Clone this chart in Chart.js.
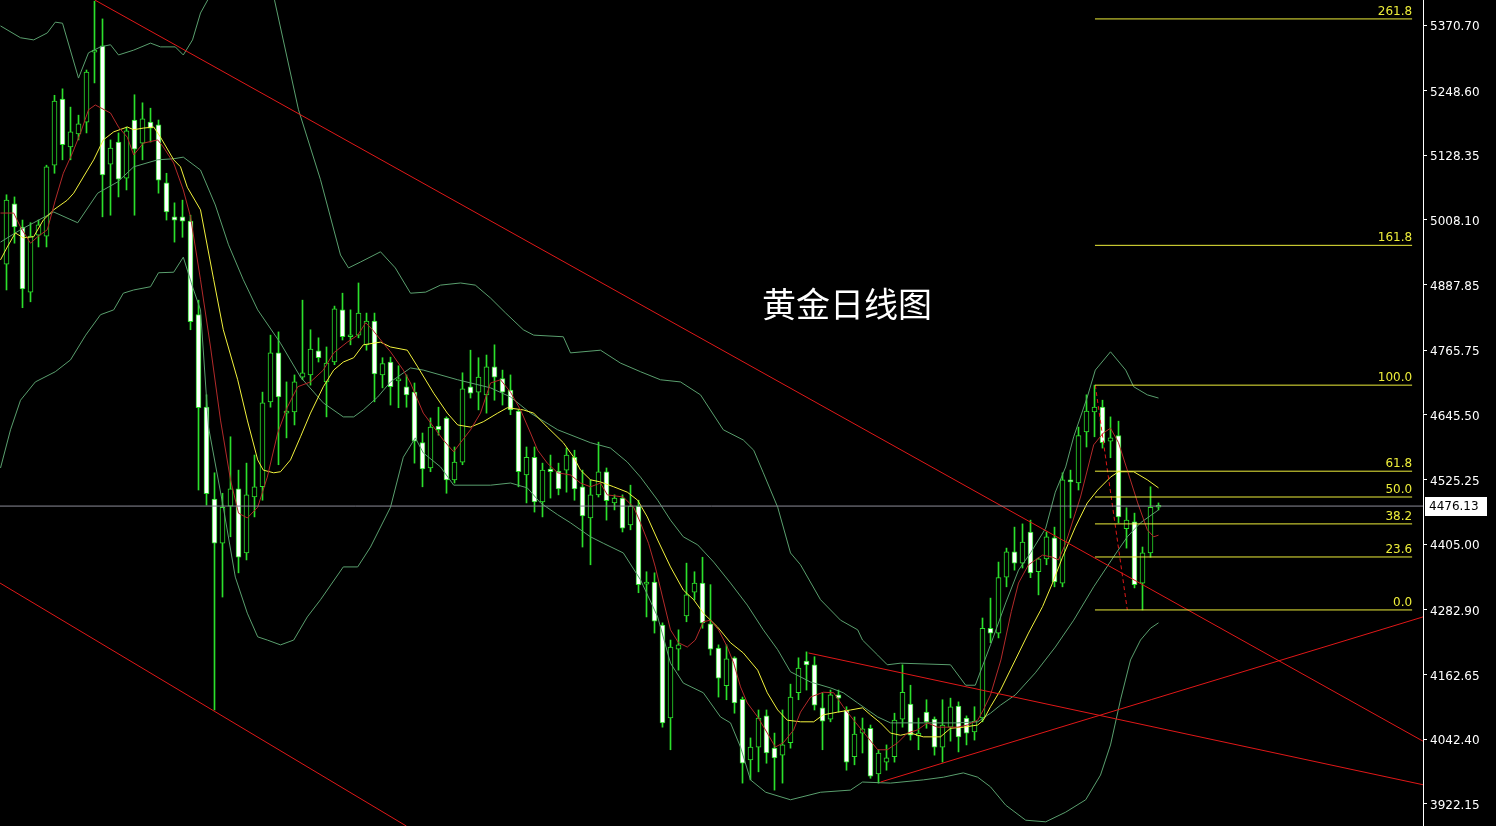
<!DOCTYPE html>
<html lang="zh">
<head>
  <meta charset="UTF-8">
  <meta name="viewport" content="width=device-width, initial-scale=1.0">
  <title>黄金日线图</title>
  <script src="https://cdn.jsdelivr.net/npm/chart.js"></script>
  <style>
    html, body {
      margin: 0;
      padding: 0;
      background-color: #000;
      overflow: hidden;
    }
    .chart-container {
      position: relative;
      width: 1496px;
      height: 826px;
    }
  </style>
</head>
<body>
  <div class="chart-container">
    <canvas id="goldChart"></canvas>
  </div>
  <script>
    // daily candles (oldest first)
    const opens = [4926,5038,4995,4874,4980,4978,5110,5233,5144,5168,5190,5320,5332,5112,5153,5086,5194,5151,5190,5185,
      5077,5014,5014,5006,4832,4660,4489,4407,4476,4508,4389,4493,4512,4670,4761,4649,4651,4716,4720,4765,
      4707,4744,4841,4791,4794,4776,4820,4720,4744,4709,4698,4688,4594,4547,4625,4640,4525,4558,4698,4688,
      4683,4735,4713,4692,4653,4534,4567,4484,4545,4541,4543,4567,4512,4454,4497,4540,4482,4491,4441,4476,
      4331,4335,4255,4082,4210,4272,4316,4333,4257,4212,4142,4194,4117,4004,4028,4086,4026,4013,4036,4129,
      4188,4181,4101,4080,4125,4097,4010,4054,4063,3978,4000,4010,4080,4108,4049,4093,4080,4028,4065,4104,
      4082,4056,4082,4249,4240,4344,4391,4370,4428,4354,4378,4417,4333,4525,4519,4614,4651,4660,4597,4607,
      4434,4447,4333,4389,4474];
    const highs = [5055,5051,5008,5003,5008,5110,5240,5252,5218,5203,5287,5415,5382,5157,5170,5181,5241,5226,5216,5194,
      5095,5040,5045,5017,4859,4683,4538,4500,4605,4543,4556,4571,4688,4794,4800,4707,4720,4859,4804,4789,
      4772,4848,4872,4841,4891,4835,4835,4752,4753,4737,4720,4705,4612,4640,4660,4642,4586,4724,4766,4752,
      4757,4776,4729,4720,4655,4586,4586,4556,4571,4556,4584,4580,4543,4525,4595,4547,4497,4497,4515,4487,
      4354,4352,4259,4227,4246,4370,4354,4381,4330,4218,4218,4196,4121,4045,4097,4097,4054,4097,4145,4194,
      4205,4196,4129,4134,4134,4103,4084,4082,4069,4023,4032,4091,4181,4143,4082,4116,4084,4116,4119,4112,
      4086,4103,4268,4305,4372,4398,4437,4443,4450,4380,4428,4437,4538,4543,4623,4683,4701,4673,4642,4634,
      4473,4463,4400,4512,4482];
    const lows = [4878,4965,4845,4856,4958,4958,5095,5120,5120,5157,5170,5263,5014,5017,5051,5064,5017,5120,5153,5058,
      5008,4967,4976,4804,4506,4478,4097,4307,4419,4352,4376,4456,4487,4660,4553,4603,4627,4711,4701,4744,
      4642,4739,4785,4776,4789,4766,4670,4696,4664,4659,4660,4556,4512,4540,4608,4500,4519,4553,4677,4655,
      4649,4673,4664,4646,4512,4482,4465,4456,4491,4497,4502,4487,4400,4367,4493,4450,4469,4428,4432,4315,
      4270,4240,4065,4023,4171,4261,4302,4249,4199,4121,4116,4091,3961,3967,3982,3998,3948,3961,4026,4116,
      4134,4097,4023,4075,4093,3985,3995,4017,3970,3961,3985,4000,4065,4041,4023,4063,4013,4000,4039,4019,
      4032,4041,4075,4222,4231,4326,4357,4361,4343,4311,4367,4326,4326,4454,4506,4586,4605,4584,4566,4445,
      4398,4324,4283,4381,4469];
    const closes = [5045,4995,4880,4978,4999,5107,5229,5148,5172,5187,5283,5324,5092,5142,5084,5174,5140,5196,5179,5082,
      5023,5008,5006,4819,4659,4499,4407,4474,4508,4381,4497,4512,4668,4761,4679,4653,4707,4724,4768,4752,
      4742,4843,4791,4792,4835,4820,4722,4741,4698,4709,4683,4597,4545,4623,4618,4525,4558,4694,4686,4716,
      4735,4716,4688,4655,4540,4567,4484,4543,4540,4508,4571,4508,4458,4497,4540,4486,4491,4435,4476,4330,
      4331,4262,4073,4214,4218,4311,4333,4259,4210,4156,4192,4110,3998,4028,4082,4017,4008,4032,4121,4175,
      4181,4106,4076,4125,4119,4000,4052,4062,3974,4017,4008,4078,4130,4050,4054,4075,4028,4069,4103,4047,
      4054,4076,4249,4240,4343,4391,4370,4409,4352,4378,4419,4335,4525,4521,4607,4653,4660,4594,4603,4456,
      4450,4330,4389,4474,4476.13];

    // indicator lines as [bar index, price]
    const maRed = [[-0.75,5021],[0.9,5021],[1.75,4995],[3,4965],[3.9,4977],[5.1,4990],[6.1,5045],[7.1,5095],[8.25,5133],
      [9.25,5170],[10.25,5213],[11.1,5222],[13,5207],[14,5181],[15.1,5162],[15.9,5129],[17.1,5151],[18.9,5157],[19.6,5144],
      [20.9,5114],[22.1,5064],[23,5014],[24.25,4897],[25.5,4772],[26.75,4636],[28,4525],[29,4463],[30.1,4454],[31.4,4474],
      [32.6,4530],[33.9,4612],[35.1,4660],[36.4,4698],[38,4707],[39.6,4729],[40.9,4761],[42.6,4781],[43.9,4794],[44.9,4817],
      [45.75,4804],[47.1,4779],[48,4763],[49.6,4729],[50.5,4705],[52.1,4649],[53.4,4623],[54.6,4599],[55.9,4577],[56.75,4594],
      [58,4618],[59.25,4649],[60.5,4705],[61.75,4711],[63,4688],[64.25,4655],[65.5,4612],[66.4,4580],[67.6,4556],[68.9,4538],
      [70.5,4534],[71.75,4519],[73,4512],[74.25,4519],[75.1,4497],[77.1,4493],[78.4,4474],[79.25,4445],[80.25,4407],[81.1,4363],
      [82,4307],[83,4246],[84,4222],[85.1,4214],[86.1,4227],[87.1,4261],[88,4264],[89,4246],[90.1,4214],[90.9,4184],
      [91.75,4140],[92.6,4110],[93.9,4084],[95.1,4054],[96.1,4028],[97.1,4036],[98.4,4060],[99.25,4093],[100.5,4121],[102.1,4130],
      [103.4,4129],[104.6,4103],[105.9,4078],[107.6,4047],[108.9,4023],[110.1,4023],[111.4,4036],[112.6,4054],[113.9,4060],[115.1,4073],
      [116.4,4065],[118.9,4065],[120.1,4069],[121.4,4078],[122.1,4097],[123,4125],[124.3,4190],[125.6,4280],[126.5,4333],[127.75,4367],
      [129.5,4385],[130.75,4381],[131.5,4376],[132.4,4407],[133.6,4463],[134.25,4493],[135.9,4590],[137.1,4612],[138,4621],[139,4594],
      [140.1,4543],[141.4,4482],[142.6,4432],[143.4,4419],[144,4422]];
    const maYellow = [[-0.75,4934],[0.1,4958],[1.1,4984],[2.1,4975],[3.4,4977],[4.6,5008],[5.9,5027],[7.6,5045],[8.4,5058],
      [9.6,5088],[10.9,5120],[12.1,5157],[13.4,5172],[15.1,5181],[15.9,5176],[17.1,5179],[18.4,5181],[19.25,5162],[20.9,5120],
      [21.75,5107],[22.6,5069],[24.25,5027],[25.9,4897],[27.1,4804],[28.9,4711],[30.1,4636],[31.4,4562],[32.1,4543],[33.4,4538],
      [34.25,4540],[35.5,4562],[36.75,4605],[38,4649],[39.6,4698],[40.9,4729],[42.1,4744],[43.4,4752],[44.6,4776],[46.75,4781],
      [48,4772],[50.1,4766],[51.4,4735],[53.4,4686],[55.1,4649],[56.4,4627],[58,4623],[59.6,4633],[61.4,4649],[62.6,4659],
      [64.6,4655],[65.9,4649],[67.6,4623],[69.6,4594],[70.9,4567],[71.75,4543],[73,4525],[74.25,4521],[75.9,4512],[77.6,4502],
      [78.9,4487],[80.1,4456],[81.4,4413],[83,4363],[84.6,4320],[85.9,4302],[87.1,4277],[88.9,4251],[90.5,4222],[92.1,4203],
      [93.9,4171],[95.1,4129],[96.4,4097],[97.6,4078],[99.25,4075],[100.9,4075],[102.1,4088],[103.9,4093],[105.5,4097],[107,4101],
      [108,4088],[109.25,4073],[110.5,4054],[111.75,4050],[113,4054],[114.6,4047],[116.75,4047],[118,4063],[119.6,4065],[121.4,4069],
      [122.1,4078],[123,4103],[124.25,4134],[126.1,4190],[127.75,4240],[129.5,4289],[130.75,4333],[132,4381],[133.6,4437],[135.1,4482],
      [136.4,4506],[138,4530],[139,4540],[140.9,4540],[142.6,4525],[144,4510]];
    const bbUpper = [[-0.75,5369],[1.75,5347],[3.4,5343],[5.1,5356],[6.1,5376],[7,5374],[9,5272],[10.25,5319],[11.75,5330],
      [13,5334],[14,5315],[15.9,5324],[18,5337],[19.25,5330],[21.1,5330],[22.1,5315],[23.25,5343],[24.25,5393],[26,5440],
      [29,5470],[32,5450],[33.5,5417],[36.5,5213],[39.25,5083],[41.75,4943],[42.75,4919],[44.25,4930],[46.75,4949],[48.6,4919],
      [50.5,4872],[52.4,4874],[54.25,4887],[56.75,4891],[58.6,4887],[60.5,4863],[62.4,4835],[64.6,4804],[65.9,4794],[69.6,4791],
      [70.5,4761],[74.25,4766],[76.75,4742],[79.25,4726],[81.75,4711],[84.25,4707],[86.75,4683],[89.6,4618],[92.1,4599],[93.4,4580],
      [94.6,4538],[96.4,4474],[98,4389],[99.25,4367],[101.75,4302],[104.25,4264],[106.4,4246],[107,4227],[108.9,4199],[110.1,4181],
      [111.75,4184],[118,4181],[119.9,4143],[121.1,4143],[123,4218],[124.9,4296],[126.5,4357],[128,4389],[129.9,4435],[131.1,4502],
      [132.4,4549],[133.4,4605],[135.1,4679],[136.1,4729],[138,4763],[139.9,4729],[140.9,4698],[142.6,4683],[144,4677]];
    const bbMiddle = [[-0.75,4967],[1.75,4990],[3.4,5003],[5.9,5023],[8.9,5003],[11.4,5058],[13.9,5079],[15.9,5107],[18.9,5120],
      [20.9,5122],[22.1,5125],[24.25,5101],[26.1,5036],[27.75,4962],[29.6,4897],[31.4,4841],[34.25,4779],[36.75,4716],[39.6,4668],
      [42.1,4642],[43.4,4642],[44.6,4655],[46.4,4679],[48,4707],[50.5,4733],[52.1,4729],[56.4,4711],[60.5,4696],[63,4679],
      [65.5,4649],[68.9,4618],[73,4594],[75.5,4584],[77.6,4558],[79.25,4530],[81.4,4487],[83,4450],[84.6,4419],[86.4,4404],
      [88.4,4372],[90.5,4333],[92.6,4292],[94.6,4246],[96.4,4209],[98,4168],[100.5,4149],[103,4138],[104.6,4129],[106.4,4110],
      [108.9,4084],[110.5,4073],[114.6,4073],[118.9,4073],[121.4,4075],[123,4091],[124.25,4106],[126.1,4125],[128.6,4166],[131.1,4214],
      [133.4,4264],[135.9,4326],[138.4,4382],[140.1,4419],[141.75,4445],[144,4469]];
    const bbLower = [[-0.75,4547],[0.5,4618],[1.75,4673],[3.6,4707],[6.1,4726],[8,4748],[9.9,4794],[11.75,4832],[13.4,4841],
      [14.6,4872],[15.9,4878],[18,4884],[19,4910],[20.9,4911],[22.1,4939],[23.25,4884],[24.25,4841],[25.25,4623],[27.1,4474],
      [28.6,4344],[30.1,4277],[31.4,4233],[32.6,4227],[34.25,4218],[35.9,4227],[37.6,4270],[39.25,4302],[42.1,4363],[43.9,4363],
      [45.5,4400],[48,4474],[49.6,4567],[51.1,4603],[52.1,4575],[54.25,4549],[55.9,4515],[60.5,4515],[63,4519],[65.1,4510],
      [66.75,4482],[68.9,4460],[70.5,4445],[73,4419],[74.6,4407],[77.1,4389],[79.25,4339],[81.4,4270],[83,4184],[84.6,4147],
      [87.1,4129],[89.25,4084],[90.5,4073],[91.75,4028],[93,3967],[94.9,3944],[98,3930],[101.75,3944],[105.5,3948],[107,3963],
      [110.5,3961],[114.6,3967],[117.1,3972],[119.6,3980],[121.4,3972],[123,3954],[124.9,3920],[127.4,3892],[129.9,3889],[132.4,3907],
      [134.9,3930],[136.75,3976],[138,4032],[139.25,4116],[140.5,4190],[141.75,4227],[143,4249],[144,4259]];

    // drawn trend lines [bar index, price]
    const trendUpper = [[11.06,5417],[177.06,4039]];
    const trendLower = [[-0.81,4333],[50,3881]];
    const trendFlag = [[100.25,4203],[177.06,3958]];
    const trendRise = [[109.25,3963],[177.06,4270]];
    const fibSwing = [[136.1,4701],[140.1,4283]];

    // fibonacci levels
    const fibLabels = ['0.0','23.6','38.2','50.0','61.8','100.0','161.8','261.8'];
    const fibPrices = [4283, 4381.5, 4443, 4493, 4541, 4701, 4961, 5382];
    const fibFrom = 136.06;
    const fibTo = 175.7;

    const yTicks = [5370.70, 5248.60, 5128.35, 5008.10, 4887.85, 4765.75, 4645.50, 4525.25, 4405.00, 4282.90, 4162.65, 4042.40, 3922.15];
    const lastPrice = 4476.13;
    const chartTitle = '黄金日线图';

    const CANDLE = '#2be02b';
    const BAND = '#5a9f6e';
    const MA_RED = '#b32a2a';
    const MA_YELLOW = '#f2f23c';
    const TREND = '#e01818';
    const FIB = '#eded3a';

    const toXY = arr => arr.map(p => ({ x: p[0], y: p[1] }));
    const lineSet = (data, color, order, extra) => Object.assign({
      type: 'line',
      data: toXY(data),
      borderColor: color,
      borderWidth: 1,
      pointRadius: 0,
      tension: 0,
      fill: false,
      order: order
    }, extra || {});

    const wicks = opens.map((o, i) => ({ x: i, y: [lows[i], highs[i]] }));
    const bodies = opens.map((o, i) => ({ x: i, y: [o, closes[i]] }));

    const datasets = [
      {
        type: 'bar',
        data: wicks,
        backgroundColor: CANDLE,
        borderWidth: 0,
        barThickness: 1,
        grouped: false,
        order: 20
      },
      {
        type: 'bar',
        data: bodies,
        backgroundColor: ctx => closes[ctx.dataIndex] >= opens[ctx.dataIndex] ? '#000000' : '#ffffff',
        borderColor: CANDLE,
        borderWidth: 1,
        borderSkipped: false,
        barThickness: 5,
        minBarLength: 2,
        grouped: false,
        order: 19
      },
      lineSet(bbUpper, BAND, 8),
      lineSet(bbMiddle, BAND, 8),
      lineSet(bbLower, BAND, 8),
      lineSet(maYellow, MA_YELLOW, 6),
      lineSet(maRed, MA_RED, 5),
      lineSet(trendUpper, TREND, 4),
      lineSet(trendLower, TREND, 4),
      lineSet(trendFlag, TREND, 4),
      lineSet(trendRise, TREND, 4),
      lineSet(fibSwing, TREND, 4, { borderDash: [4, 3] }),
      lineSet([[-0.82, lastPrice], [177.1, lastPrice]], '#8c8c98', 3)
    ];
    fibPrices.forEach(p => {
      datasets.push(lineSet([[fibFrom, p], [fibTo, p]], FIB, 2));
    });

    // texts: fib labels, title and the last price box
    const overlay = {
      id: 'overlay',
      afterDraw(chart) {
        const { ctx, scales: { x, y } } = chart;
        ctx.save();
        ctx.font = '12px "DejaVu Sans"';
        ctx.fillStyle = FIB;
        ctx.textAlign = 'right';
        ctx.textBaseline = 'bottom';
        fibPrices.forEach((p, k) => {
          ctx.fillText(fibLabels[k], x.getPixelForValue(fibTo), y.getPixelForValue(p) - 1);
        });

        ctx.font = '34px "Noto Sans CJK SC"';
        ctx.fillStyle = '#ffffff';
        ctx.textAlign = 'center';
        ctx.textBaseline = 'middle';
        ctx.fillText(chartTitle, 847, 304);

        const py = Math.round(y.getPixelForValue(lastPrice));
        ctx.fillStyle = '#ffffff';
        ctx.fillRect(x.right + 2, py - 9, 62, 19);
        ctx.font = '12px "DejaVu Sans"';
        ctx.fillStyle = '#000000';
        ctx.textAlign = 'left';
        ctx.fillText(lastPrice.toFixed(2), x.right + 6, py + 1);
        ctx.restore();
      }
    };

    new Chart(document.getElementById('goldChart'), {
      type: 'bar',
      data: { datasets: datasets },
      options: {
        responsive: true,
        maintainAspectRatio: false,
        animation: false,
        layout: { padding: 0 },
        plugins: {
          legend: { display: false },
          tooltip: { enabled: false },
          title: { display: false }
        },
        scales: {
          x: {
            type: 'linear',
            min: -0.8125,
            max: 177.0625,
            offset: false,
            display: false
          },
          y: {
            position: 'right',
            min: 3881.24,
            max: 5417.19,
            afterBuildTicks: scale => {
              scale.ticks = yTicks.map(v => ({ value: v }));
            },
            afterFit: scale => {
              scale.width = 73;
              scale.paddingTop = 0;
              scale.paddingBottom = 0;
            },
            ticks: {
              color: '#ffffff',
              autoSkip: false,
              padding: 3,
              labelOffset: 2,
              font: { family: 'DejaVu Sans', size: 12 },
              callback: v => Number(v).toFixed(2)
            },
            grid: {
              drawOnChartArea: false,
              drawTicks: true,
              tickLength: 4,
              color: '#ffffff'
            },
            border: { display: true, color: '#ffffff', width: 1 }
          }
        }
      },
      plugins: [overlay]
    });
  </script>
</body>
</html>
